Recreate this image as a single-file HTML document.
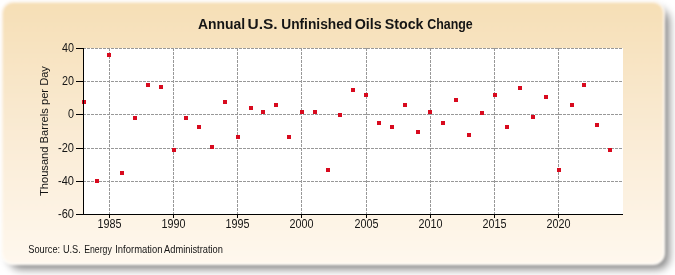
<!DOCTYPE html>
<html><head><meta charset="utf-8"><style>
html,body{margin:0;padding:0;width:675px;height:275px;overflow:hidden;background:#fff}
#bg{position:absolute;left:0;top:0;width:675px;height:275px;filter:blur(0.8px)}
#sh{position:absolute;left:9px;top:9px;width:660px;height:260px;border-radius:12px;background:rgba(0,0,0,0.5);filter:blur(4px)}
#halo{position:absolute;left:1px;top:1px;width:664px;height:264px;border-radius:12px;background:linear-gradient(#fcf4ea,#fffcf7)}
#box{position:absolute;left:3px;top:3px;width:660px;height:260px;border-radius:10px;
background:linear-gradient(to bottom,#f6dfb6 0%,#faebd4 50%,#fff8ee 100%)}
svg{position:absolute;left:0;top:0;will-change:transform}
.t{font-family:"Liberation Sans",sans-serif;font-size:12px;fill:#151515}
.title{font-family:"Liberation Sans",sans-serif;font-size:14px;font-weight:bold;fill:#151515}
.yl{font-family:"Liberation Sans",sans-serif;font-size:11px;fill:#151515}
.src{font-family:"Liberation Sans",sans-serif;font-size:10px;fill:#151515}
</style></head><body>
<div id="bg"><div id="sh"></div><div id="halo"></div><div id="box"></div></div>
<svg width="675" height="275" viewBox="0 0 675 275">
<text x="198.01" y="28.7" class="title" textLength="47.14" lengthAdjust="spacingAndGlyphs">Annual</text>
<text x="247.60" y="28.7" class="title" textLength="30.07" lengthAdjust="spacingAndGlyphs">U.S.</text>
<text x="281.22" y="28.7" class="title" textLength="71.00" lengthAdjust="spacingAndGlyphs">Unfinished</text>
<text x="354.68" y="28.7" class="title" textLength="27.10" lengthAdjust="spacingAndGlyphs">Oils</text>
<text x="384.68" y="28.7" class="title" textLength="38.85" lengthAdjust="spacingAndGlyphs">Stock</text>
<text x="427.21" y="28.7" class="title" textLength="45.49" lengthAdjust="spacingAndGlyphs">Change</text>
<text transform="translate(47.5,131.05) rotate(-90)" text-anchor="middle" class="yl" textLength="130" lengthAdjust="spacingAndGlyphs">Thousand Barrels per Day</text>
<text x="28.28" y="253" class="src" textLength="31.86" lengthAdjust="spacingAndGlyphs">Source:</text>
<text x="62.88" y="253" class="src" textLength="17.94" lengthAdjust="spacingAndGlyphs">U.S.</text>
<text x="84.23" y="253" class="src" textLength="27.60" lengthAdjust="spacingAndGlyphs">Energy</text>
<text x="115.26" y="253" class="src" textLength="47.22" lengthAdjust="spacingAndGlyphs">Information</text>
<text x="164.10" y="253" class="src" textLength="58.83" lengthAdjust="spacingAndGlyphs">Administration</text>
<rect x="83" y="48" width="540" height="166" fill="#fff"/>
<line x1="83" y1="48.5" x2="623" y2="48.5" stroke="#989898" stroke-width="1" stroke-dasharray="3,1"/>
<line x1="83" y1="81.5" x2="623" y2="81.5" stroke="#989898" stroke-width="1" stroke-dasharray="3,1"/>
<line x1="83" y1="114.5" x2="623" y2="114.5" stroke="#989898" stroke-width="1" stroke-dasharray="3,1"/>
<line x1="83" y1="148.5" x2="623" y2="148.5" stroke="#989898" stroke-width="1" stroke-dasharray="3,1"/>
<line x1="83" y1="181.5" x2="623" y2="181.5" stroke="#989898" stroke-width="1" stroke-dasharray="3,1"/>
<line x1="109.5" y1="48" x2="109.5" y2="214" stroke="#989898" stroke-width="1" stroke-dasharray="3,1"/>
<line x1="173.5" y1="48" x2="173.5" y2="214" stroke="#989898" stroke-width="1" stroke-dasharray="3,1"/>
<line x1="237.5" y1="48" x2="237.5" y2="214" stroke="#989898" stroke-width="1" stroke-dasharray="3,1"/>
<line x1="301.5" y1="48" x2="301.5" y2="214" stroke="#989898" stroke-width="1" stroke-dasharray="3,1"/>
<line x1="366.5" y1="48" x2="366.5" y2="214" stroke="#989898" stroke-width="1" stroke-dasharray="3,1"/>
<line x1="430.5" y1="48" x2="430.5" y2="214" stroke="#989898" stroke-width="1" stroke-dasharray="3,1"/>
<line x1="494.5" y1="48" x2="494.5" y2="214" stroke="#989898" stroke-width="1" stroke-dasharray="3,1"/>
<line x1="558.5" y1="48" x2="558.5" y2="214" stroke="#989898" stroke-width="1" stroke-dasharray="3,1"/>
<rect x="82" y="100" width="4" height="4" fill="#d80a1e"/>
<rect x="95" y="179" width="4" height="4" fill="#d80a1e"/>
<rect x="107" y="53" width="4" height="4" fill="#d80a1e"/>
<rect x="120" y="171" width="4" height="4" fill="#d80a1e"/>
<rect x="133" y="116" width="4" height="4" fill="#d80a1e"/>
<rect x="146" y="83" width="4" height="4" fill="#d80a1e"/>
<rect x="159" y="85" width="4" height="4" fill="#d80a1e"/>
<rect x="172" y="148" width="4" height="4" fill="#d80a1e"/>
<rect x="184" y="116" width="4" height="4" fill="#d80a1e"/>
<rect x="197" y="125" width="4" height="4" fill="#d80a1e"/>
<rect x="210" y="145" width="4" height="4" fill="#d80a1e"/>
<rect x="223" y="100" width="4" height="4" fill="#d80a1e"/>
<rect x="236" y="135" width="4" height="4" fill="#d80a1e"/>
<rect x="249" y="106" width="4" height="4" fill="#d80a1e"/>
<rect x="261" y="110" width="4" height="4" fill="#d80a1e"/>
<rect x="274" y="103" width="4" height="4" fill="#d80a1e"/>
<rect x="287" y="135" width="4" height="4" fill="#d80a1e"/>
<rect x="300" y="110" width="4" height="4" fill="#d80a1e"/>
<rect x="313" y="110" width="4" height="4" fill="#d80a1e"/>
<rect x="326" y="168" width="4" height="4" fill="#d80a1e"/>
<rect x="338" y="113" width="4" height="4" fill="#d80a1e"/>
<rect x="351" y="88" width="4" height="4" fill="#d80a1e"/>
<rect x="364" y="93" width="4" height="4" fill="#d80a1e"/>
<rect x="377" y="121" width="4" height="4" fill="#d80a1e"/>
<rect x="390" y="125" width="4" height="4" fill="#d80a1e"/>
<rect x="403" y="103" width="4" height="4" fill="#d80a1e"/>
<rect x="416" y="130" width="4" height="4" fill="#d80a1e"/>
<rect x="428" y="110" width="4" height="4" fill="#d80a1e"/>
<rect x="441" y="121" width="4" height="4" fill="#d80a1e"/>
<rect x="454" y="98" width="4" height="4" fill="#d80a1e"/>
<rect x="467" y="133" width="4" height="4" fill="#d80a1e"/>
<rect x="480" y="111" width="4" height="4" fill="#d80a1e"/>
<rect x="493" y="93" width="4" height="4" fill="#d80a1e"/>
<rect x="505" y="125" width="4" height="4" fill="#d80a1e"/>
<rect x="518" y="86" width="4" height="4" fill="#d80a1e"/>
<rect x="531" y="115" width="4" height="4" fill="#d80a1e"/>
<rect x="544" y="95" width="4" height="4" fill="#d80a1e"/>
<rect x="557" y="168" width="4" height="4" fill="#d80a1e"/>
<rect x="570" y="103" width="4" height="4" fill="#d80a1e"/>
<rect x="582" y="83" width="4" height="4" fill="#d80a1e"/>
<rect x="595" y="123" width="4" height="4" fill="#d80a1e"/>
<rect x="608" y="148" width="4" height="4" fill="#d80a1e"/>
<line x1="83.5" y1="48" x2="83.5" y2="215" stroke="#000" stroke-width="1"/>
<line x1="83" y1="214.5" x2="623" y2="214.5" stroke="#000" stroke-width="1"/>
<line x1="76" y1="48.5" x2="83" y2="48.5" stroke="#000" stroke-width="1"/>
<text x="74" y="51.8" text-anchor="end" class="t" textLength="12" lengthAdjust="spacingAndGlyphs">40</text>
<line x1="76" y1="81.5" x2="83" y2="81.5" stroke="#000" stroke-width="1"/>
<text x="74" y="84.8" text-anchor="end" class="t" textLength="12" lengthAdjust="spacingAndGlyphs">20</text>
<line x1="76" y1="114.5" x2="83" y2="114.5" stroke="#000" stroke-width="1"/>
<text x="74" y="117.8" text-anchor="end" class="t" textLength="6" lengthAdjust="spacingAndGlyphs">0</text>
<line x1="76" y1="148.5" x2="83" y2="148.5" stroke="#000" stroke-width="1"/>
<text x="74" y="151.8" text-anchor="end" class="t" textLength="16" lengthAdjust="spacingAndGlyphs">-20</text>
<line x1="76" y1="181.5" x2="83" y2="181.5" stroke="#000" stroke-width="1"/>
<text x="74" y="184.8" text-anchor="end" class="t" textLength="16" lengthAdjust="spacingAndGlyphs">-40</text>
<line x1="76" y1="214.5" x2="83" y2="214.5" stroke="#000" stroke-width="1"/>
<text x="74" y="217.8" text-anchor="end" class="t" textLength="16" lengthAdjust="spacingAndGlyphs">-60</text>
<line x1="109.5" y1="214" x2="109.5" y2="218" stroke="#000" stroke-width="1"/>
<text x="109.5" y="228" text-anchor="middle" class="t" textLength="24" lengthAdjust="spacingAndGlyphs">1985</text>
<line x1="173.5" y1="214" x2="173.5" y2="218" stroke="#000" stroke-width="1"/>
<text x="173.5" y="228" text-anchor="middle" class="t" textLength="24" lengthAdjust="spacingAndGlyphs">1990</text>
<line x1="237.5" y1="214" x2="237.5" y2="218" stroke="#000" stroke-width="1"/>
<text x="237.5" y="228" text-anchor="middle" class="t" textLength="24" lengthAdjust="spacingAndGlyphs">1995</text>
<line x1="301.5" y1="214" x2="301.5" y2="218" stroke="#000" stroke-width="1"/>
<text x="301.5" y="228" text-anchor="middle" class="t" textLength="24" lengthAdjust="spacingAndGlyphs">2000</text>
<line x1="366.5" y1="214" x2="366.5" y2="218" stroke="#000" stroke-width="1"/>
<text x="366.5" y="228" text-anchor="middle" class="t" textLength="24" lengthAdjust="spacingAndGlyphs">2005</text>
<line x1="430.5" y1="214" x2="430.5" y2="218" stroke="#000" stroke-width="1"/>
<text x="430.5" y="228" text-anchor="middle" class="t" textLength="24" lengthAdjust="spacingAndGlyphs">2010</text>
<line x1="494.5" y1="214" x2="494.5" y2="218" stroke="#000" stroke-width="1"/>
<text x="494.5" y="228" text-anchor="middle" class="t" textLength="24" lengthAdjust="spacingAndGlyphs">2015</text>
<line x1="558.5" y1="214" x2="558.5" y2="218" stroke="#000" stroke-width="1"/>
<text x="558.5" y="228" text-anchor="middle" class="t" textLength="24" lengthAdjust="spacingAndGlyphs">2020</text>
</svg>
</body></html>
